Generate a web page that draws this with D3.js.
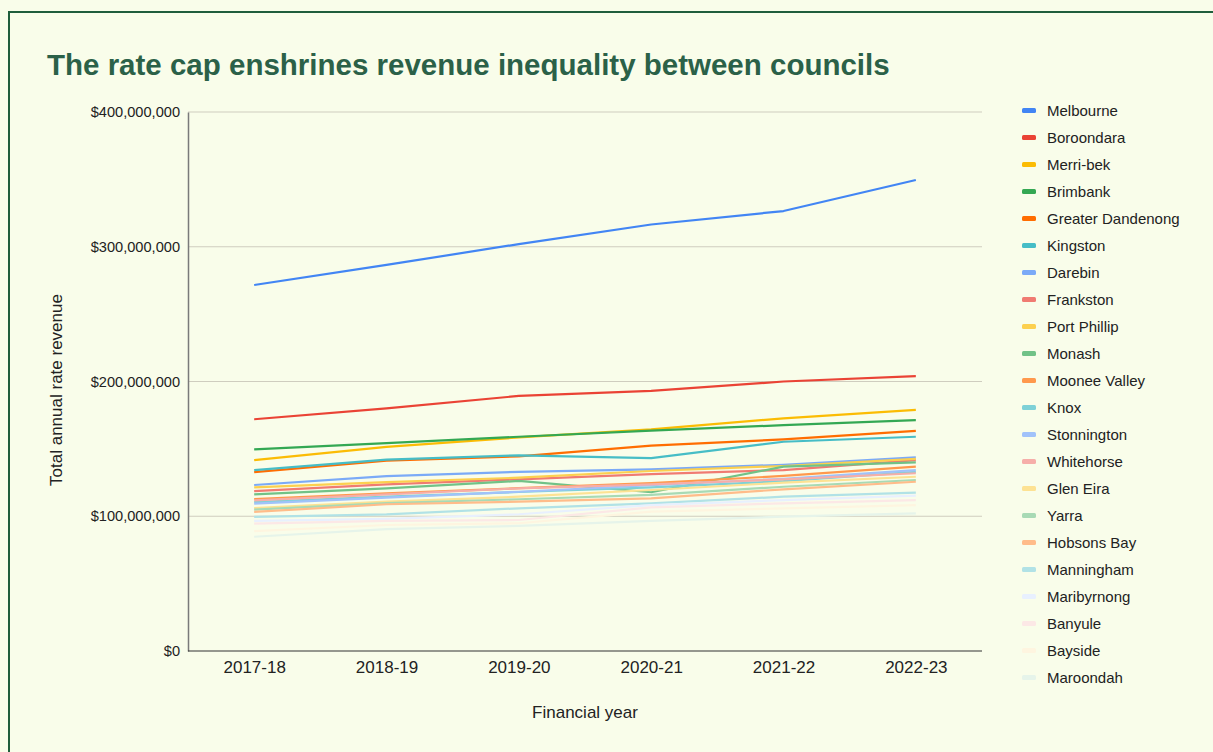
<!DOCTYPE html>
<html>
<head>
<meta charset="utf-8">
<script src="https://cdn.jsdelivr.net/npm/d3@7"></script>
<style>
  html, body { margin: 0; padding: 0; background: #f9fdea; }
  svg { display: block; font-family: "Liberation Sans", Arial, sans-serif; }
</style>
</head>
<body>
<svg id="chart" width="1213" height="752"></svg>
<script>
var years = ["2017-18", "2018-19", "2019-20", "2020-21", "2021-22", "2022-23"];

var councils = ["Melbourne", "Boroondara", "Merri-bek", "Brimbank", "Greater Dandenong",
  "Kingston", "Darebin", "Frankston", "Port Phillip", "Monash", "Moonee Valley", "Knox",
  "Stonnington", "Whitehorse", "Glen Eira", "Yarra", "Hobsons Bay", "Manningham",
  "Maribyrnong", "Banyule", "Bayside", "Maroondah"];

var colours = ["#4285f4", "#ea4335", "#fbbc04", "#34a853", "#ff6d01",
  "#46bdc6", "#7baaf7", "#f07b72", "#fcd04f", "#71c287", "#ff994d", "#7ed1d7",
  "#a1c2fa", "#f6aea9", "#fde293", "#a8dab5", "#ffbc8a", "#b1e2e6",
  "#e8f0fe", "#fce8e6", "#fef5e0", "#e6f4ea"];

// revenue in $ millions, one array per council
var melbourne        = [271.6, 286.5, 302.0, 316.5, 326.5, 349.5];
var boroondara       = [172.0, 180.0, 189.3, 193.0, 200.0, 204.0];
var merribek         = [141.6, 151.5, 158.5, 164.5, 172.7, 179.0];
var brimbank         = [149.7, 154.3, 159.0, 163.5, 167.6, 171.4];
var greaterDandenong = [132.8, 141.2, 144.5, 152.4, 157.0, 163.3];
var kingston         = [134.3, 142.0, 145.2, 143.2, 155.3, 159.0];
var darebin          = [123.2, 129.8, 133.0, 134.8, 138.2, 143.7];
var frankston        = [118.7, 123.7, 127.4, 131.2, 134.3, 141.6];
var portPhillip      = [121.5, 125.3, 128.6, 133.6, 137.3, 142.6];
var monash           = [116.3, 120.7, 126.2, 117.8, 136.8, 140.0];
var mooneeValley     = [112.8, 117.0, 120.8, 124.6, 129.9, 136.8];
var knox             = [110.5, 114.6, 118.0, 121.5, 126.0, 133.0];
var stonnington      = [109.3, 113.8, 118.2, 123.0, 127.8, 134.3];
var whitehorse       = [111.8, 116.3, 120.7, 123.7, 127.4, 131.9];
var glenEira         = [106.0, 110.8, 114.5, 119.5, 124.9, 129.3];
var yarra            = [104.9, 109.8, 112.6, 115.8, 121.9, 126.9];
var hobsonsBay       = [103.2, 108.9, 110.8, 113.3, 120.0, 125.6];
var manningham       = [99.5, 101.4, 105.9, 109.6, 114.5, 117.5];
var maribyrnong      = [96.5, 98.0, 101.5, 108.3, 112.0, 115.3];
var banyule          = [94.5, 96.5, 97.2, 106.6, 109.6, 112.0];
var bayside          = [89.0, 93.5, 94.8, 103.4, 105.9, 108.3];
var maroondah        = [84.8, 90.5, 92.8, 96.5, 99.7, 102.2];

var seriesValues = [melbourne, boroondara, merribek, brimbank, greaterDandenong,
  kingston, darebin, frankston, portPhillip, monash, mooneeValley, knox,
  stonnington, whitehorse, glenEira, yarra, hobsonsBay, manningham,
  maribyrnong, banyule, bayside, maroondah];

var yTicks = [0, 100000000, 200000000, 300000000, 400000000];

var svg = d3.select("#chart");

// outer frame
svg.append("rect")
  .attr("x", 9).attr("y", 12)
  .attr("width", 1240).attr("height", 780)
  .attr("fill", "#f9fdea")
  .attr("stroke", "#1f5e3c")
  .attr("stroke-width", 2);

svg.append("text")
  .attr("x", 47).attr("y", 75)
  .attr("fill", "#2b6148")
  .attr("font-size", 29.5)
  .attr("font-weight", "bold")
  .text("The rate cap enshrines revenue inequality between councils");

var plotLeft = 188, plotRight = 982, plotTop = 112, plotBottom = 651;

var x = d3.scalePoint().domain(years).range([plotLeft, plotRight]).padding(0.5);
var y = d3.scaleLinear().domain([0, 400000000]).range([plotBottom, plotTop]);

// gridlines
svg.append("g")
  .selectAll("line")
  .data(yTicks.slice(1))
  .join("line")
  .attr("x1", plotLeft).attr("x2", plotRight)
  .attr("y1", function(d){ return y(d); })
  .attr("y2", function(d){ return y(d); })
  .attr("stroke", "#cfcdbf")
  .attr("stroke-width", 1);

var yAxis = svg.append("g")
  .attr("transform", "translate(" + plotLeft + ",0)")
  .call(d3.axisLeft(y).tickValues(yTicks).tickSize(0).tickPadding(8)
    .tickFormat(function(d){ return "$" + d3.format(",")(d); }));
yAxis.select(".domain").attr("stroke", "#7a7a7a").attr("stroke-width", 1.5);
yAxis.selectAll("text").attr("font-size", 14.6).attr("fill", "#222")
  .attr("font-family", "Liberation Sans, Arial, sans-serif");

var xAxis = svg.append("g")
  .attr("transform", "translate(0," + plotBottom + ")")
  .call(d3.axisBottom(x).tickSize(0).tickPadding(10));
xAxis.select(".domain").remove();
xAxis.selectAll("text").attr("font-size", 17).attr("fill", "#222")
  .attr("font-family", "Liberation Sans, Arial, sans-serif");

// lines
var line = d3.line()
  .x(function(d, i){ return x(years[i]); })
  .y(function(d){ return y(d * 1000000); });

svg.append("g")
  .selectAll("path")
  .data(seriesValues)
  .join("path")
  .attr("d", line)
  .attr("fill", "none")
  .attr("stroke", function(d, i){ return colours[i]; })
  .attr("stroke-width", 2.2)
  .attr("stroke-linejoin", "round");

// baseline over the lines
svg.append("line")
  .attr("x1", plotLeft).attr("x2", plotRight)
  .attr("y1", plotBottom).attr("y2", plotBottom)
  .attr("stroke", "#333").attr("stroke-width", 1.2);

// axis titles
svg.append("text")
  .attr("x", 585).attr("y", 718)
  .attr("text-anchor", "middle")
  .attr("font-size", 17).attr("fill", "#222")
  .text("Financial year");

svg.append("text")
  .attr("transform", "translate(62,390) rotate(-90)")
  .attr("text-anchor", "middle")
  .attr("font-size", 17).attr("fill", "#222")
  .text("Total annual rate revenue");

// legend
var legend = svg.append("g")
  .selectAll("g")
  .data(councils)
  .join("g")
  .attr("transform", function(d, i){ return "translate(1022," + (111 + i * 27) + ")"; });

legend.append("rect")
  .attr("x", 0).attr("y", -3)
  .attr("width", 14).attr("height", 5)
  .attr("rx", 1.5)
  .attr("fill", function(d, i){ return colours[i]; });

legend.append("text")
  .attr("x", 25).attr("y", 5)
  .attr("font-size", 15).attr("fill", "#222")
  .text(function(d){ return d; });
</script>
</body>
</html>
